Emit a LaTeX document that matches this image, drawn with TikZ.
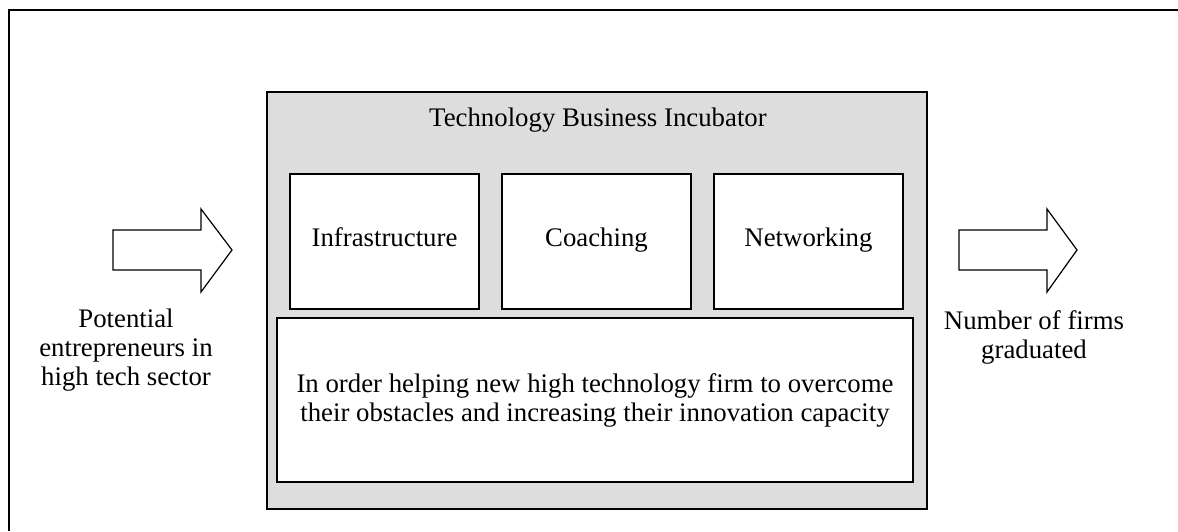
\documentclass[tikz,border=0pt]{standalone}
\usepackage{fontspec}
\setmainfont{Liberation Serif}
\usepackage{xcolor}
\usepackage{tikz}
\usetikzlibrary{positioning}
\definecolor{tbigray}{HTML}{DDDDDD}

\begin{document}
\begin{tikzpicture}[x=0.5pt,y=-0.5pt,font=\fontsize{13.4}{14.5}\selectfont,
  part/.style={draw,line width=1pt,fill=white,inner sep=0pt,align=center},
  onerow/.style={text height=0.7em,text depth=0.25em},
  label/.style={align=center,inner sep=0pt}]
\useasboundingbox (0,0) rectangle (1178,531);
% frame
\draw[line width=1pt] (9,531) -- (9,10) -- (1178,10);

% incubator
\node[draw,line width=1pt,fill=tbigray,minimum width=330pt,minimum height=208.5pt,inner sep=0pt] (tbi) at (597,300.5) {};
\node[label,onerow] (title) at (598,122) {Technology Business Incubator};

\node[part,onerow,minimum width=94.5pt,minimum height=67.5pt] (infra) at (384.5,241.5) {Infrastructure};
\node[part,onerow,minimum width=94.5pt,minimum height=67.5pt] (coach) at (596.5,241.5) {Coaching};
\node[part,onerow,minimum width=94.5pt,minimum height=67.5pt] (network) at (808.5,241.5) {Networking};
\node[part,minimum width=318pt,minimum height=82pt] (aim) at (595,400) {In order helping new high technology firm to overcome\\their obstacles and increasing their innovation capacity};

% arrows in and out
\draw[line width=0.6pt,fill=white] (113,230) -- (201,230) -- (201,209) -- (232,250) -- (201,292) -- (201,270) -- (113,270) -- cycle;
\draw[line width=0.6pt,fill=white] (959,230) -- (1047,230) -- (1047,209) -- (1077,250) -- (1047,292) -- (1047,270) -- (959,270) -- cycle;

\node[label] (input) at (126,350) {Potential\\entrepreneurs in\\high tech sector};
\node[label] (output) at (1034,337) {Number of firms\\graduated};
\end{tikzpicture}
\end{document}
